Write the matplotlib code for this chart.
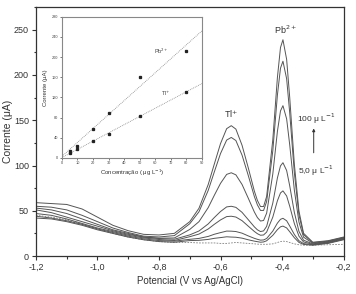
import matplotlib
matplotlib.use("Agg")
import matplotlib.pyplot as plt
import numpy as np
from matplotlib.ticker import MultipleLocator, FuncFormatter

plt.rcParams['font.family'] = ['Liberation Sans', 'DejaVu Sans']

# Potential grid (V vs Ag/AgCl)
potential = [-1.20, -1.15, -1.10, -1.05, -1.00, -0.95, -0.90, -0.85, -0.80, -0.75,
             -0.70, -0.67, -0.64, -0.62, -0.60, -0.58, -0.565, -0.55, -0.53, -0.51,
             -0.49, -0.48, -0.47, -0.46, -0.45, -0.43, -0.415, -0.405, -0.397, -0.385,
             -0.375, -0.36, -0.345, -0.33, -0.30, -0.25, -0.20]

# Current (uA)
blank = [45, 43, 40, 35, 30, 25, 21, 18, 16, 15,
         15, 14.5, 14.5, 14.5, 14, 14, 14.5, 15, 14.5, 14,
         13.5, 13.2, 13, 13, 13, 13.5, 15, 16, 16.5, 16,
         15, 13.5, 12.5, 12, 12, 12.5, 13]
c1 = [42, 41, 38, 34, 29, 25, 21, 18, 16, 15.3,
      17.1, 17.4, 18.4, 19.6, 20.4, 21.3, 21, 20.8, 19.8, 18,
      16.5, 15.9, 15.3, 15.6, 16.9, 22.9, 29.2, 32.3, 33.1, 31.1,
      26.9, 20.3, 15.1, 12.9, 12, 14, 18]
c2 = [44, 42, 39, 35, 30, 26, 22, 19, 17.1, 16.5,
      18.5, 19.5, 21.7, 24.1, 25.9, 27.6, 27.5, 27.1, 25.3, 22.3,
      19.6, 18.5, 17.6, 17.8, 19.4, 27.6, 36.4, 40.6, 41.7, 39,
      33.2, 23.9, 16.9, 13.8, 12.5, 14.5, 18.5]
c3 = [47, 45, 41, 36, 31, 27, 23, 20, 18.3, 17.2,
      21.4, 24.3, 29.9, 35.1, 39.9, 43.6, 44, 43.1, 39.1, 33.1,
      27.2, 24.7, 23, 23.3, 26.5, 43, 61.1, 69.7, 72, 66.4,
      55.1, 36, 22, 15.6, 13, 15, 19]
c4 = [51, 48, 43, 38, 33, 28, 24, 21, 19.4, 18.6,
      23.4, 27.7, 35.5, 42.6, 49.2, 54.3, 55, 53.8, 48.3, 40.3,
      32.3, 29, 27.1, 27.8, 32.8, 58.5, 86.3, 99.6, 103.1, 94.5,
      77.6, 48.3, 27.3, 17.5, 13.5, 15.5, 19.5]
c5 = [53, 51, 47, 41, 35, 29, 25, 21, 19.8, 20,
      29.4, 38, 53.5, 67.2, 80.3, 90.2, 92, 89.7, 79.1, 64.1,
      48.7, 42.5, 38.7, 39.3, 47.4, 90.6, 137.7, 160.3, 166.1, 151.5,
      122.9, 73, 37.6, 20.9, 14.2, 16, 20]
c6 = [55, 54, 51, 45, 38, 31, 26, 22, 21.1, 22.6,
      35.7, 48.9, 72.5, 93.1, 113.2, 128.1, 131, 127.6, 111.5, 89.3,
      65.8, 56.5, 50.4, 50.4, 60.2, 116.3, 177.9, 207.5, 215.2, 195.8,
      158.2, 92.2, 45.6, 23.6, 14.8, 16.5, 20.5]
c7 = [59, 58, 57, 52, 43, 34, 28, 24, 23.3, 25.1,
      38, 52.8, 79, 101.8, 124.2, 140.7, 144, 140.2, 122.4, 97.8,
      71.8, 61.4, 54.7, 54.7, 65.8, 128.4, 197.2, 230.3, 238.9, 217.2,
      175.2, 101.7, 49.7, 25.2, 15.3, 17, 21]

# Inset calibration data
conc = [5, 10, 20, 30, 50, 80]
pb_current = [14, 24, 57, 89, 161, 212]
tl_current = [9, 17, 34, 48, 83, 131]

fig = plt.figure(figsize=(3.56, 2.94), dpi=100)
ax = fig.add_axes([0.101, 0.129, 0.864, 0.847])

line_col = '#555555'
ax.plot(potential, blank, color='#808080', lw=0.6, ls=(0, (2, 1.5)))
for c in [c1, c2, c3, c4, c5, c6, c7]:
    ax.plot(potential, c, color=line_col, lw=0.7)

ax.set_xlim(-1.2, -0.2)
ax.set_ylim(0, 275)
ax.xaxis.set_major_locator(MultipleLocator(0.2))
ax.xaxis.set_minor_locator(MultipleLocator(0.1))
ax.yaxis.set_major_locator(MultipleLocator(50))
ax.yaxis.set_minor_locator(MultipleLocator(25))
ax.xaxis.set_major_formatter(FuncFormatter(lambda v, p: f"{v:.1f}".replace('.', ',')))
ax.tick_params(which='both', direction='out', labelsize=6.5, colors='#333333', width=0.8, pad=2)
ax.tick_params(which='major', length=3)
ax.tick_params(which='minor', length=1.8)
for s in ax.spines.values():
    s.set_color('#333333')
    s.set_linewidth(0.9)
ax.set_xlabel('Potencial (V vs Ag/AgCl)', fontsize=7, color='#333333', labelpad=3)
ax.set_ylabel('Corrente (\u03bcA)', fontsize=7.5, color='#333333', labelpad=1)

ax.text(-0.567, 150, 'Tl$^{+}$', fontsize=6.5, ha='center', va='bottom', color='#333333')
ax.text(-0.388, 243, 'Pb$^{2+}$', fontsize=6.5, ha='center', va='bottom', color='#333333')
ax.text(-0.29, 152, '100 \u03bc L$^{-1}$', fontsize=6, ha='center', va='center', color='#333333')
ax.text(-0.29, 94, '5,0 \u03bc L$^{-1}$', fontsize=6, ha='center', va='center', color='#333333')
ax.annotate('', xy=(-0.297, 144), xytext=(-0.297, 111),
            arrowprops=dict(arrowstyle='-|>', color='#333333', lw=0.7,
                            mutation_scale=4))

# Inset
ins = fig.add_axes([0.174, 0.463, 0.393, 0.48])
xx = np.array([0, 90])
for yv, lab, lx, ly, lsup in [(pb_current, 'Pb', 64, 212, '2+'), (tl_current, 'Tl', 67, 127, '+')]:
    k, b = np.polyfit(conc, yv, 1)
    ins.plot(xx, k * xx + b, color='#888888', lw=0.6, ls=(0, (1, 1.2)))
    ins.plot(conc, yv, 's', color='#222222', ms=1.4)
    ins.text(lx, ly, f'{lab}$^{{{lsup}}}$', fontsize=4, ha='center', va='center', color='#444444')
ins.set_xlim(0, 90)
ins.set_ylim(0, 280)
ins.xaxis.set_major_locator(MultipleLocator(10))
ins.yaxis.set_major_locator(MultipleLocator(40))
ins.tick_params(which='both', direction='out', labelsize=2.8, colors='#444444',
                length=1.5, width=0.5, pad=1)
for s in ins.spines.values():
    s.set_color('#888888')
    s.set_linewidth(0.8)
ins.set_xlabel('Concentra\u00e7\u00e3o ( \u03bcg L$^{-1}$)', fontsize=4.3, color='#333333', labelpad=2)
ins.set_ylabel('Corrente (\u03bcA)', fontsize=4.3, color='#333333', labelpad=3)

fig.savefig('out.png', dpi=100)
